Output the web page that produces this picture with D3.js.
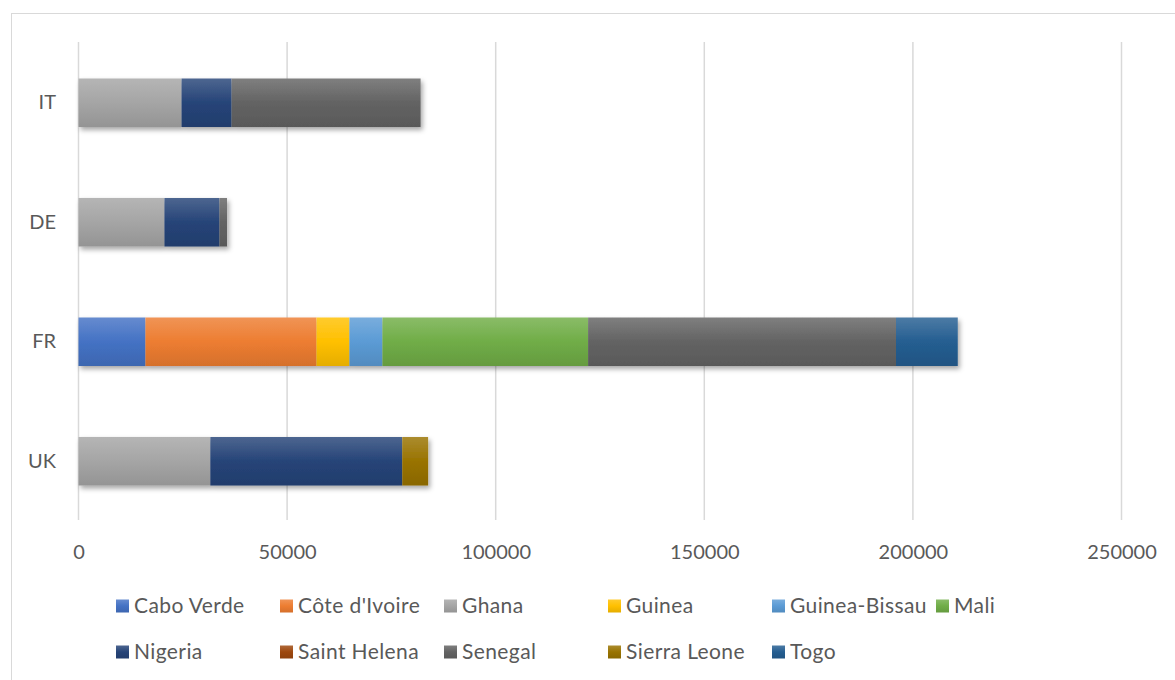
<!DOCTYPE html>
<html>
<head>
<meta charset="utf-8">
<script src="https://cdn.jsdelivr.net/npm/d3@7"></script>
<style>
  html, body { margin: 0; padding: 0; background: #fff; }
  svg { display: block; }
  text { font-family: Lato, "Open Sans", sans-serif; fill: #595959; }
</style>
</head>
<body>
<svg id="chart" width="1175" height="680"></svg>
<script>
// ---- Data ----
const categories = ["IT", "DE", "FR", "UK"];
const seriesNames = ["Cabo Verde", "Côte d'Ivoire", "Ghana", "Guinea", "Guinea-Bissau", "Mali",
                     "Nigeria", "Saint Helena", "Senegal", "Sierra Leone", "Togo"];
// values in order of categories: IT, DE, FR, UK
const caboVerde    = [0, 0, 16050, 0];
const coteIvoire   = [0, 0, 41000, 0];
const ghana        = [24700, 20600, 0, 31600];
const guinea       = [0, 0, 7900, 0];
const guineaBissau = [0, 0, 7900, 0];
const mali         = [0, 0, 49300, 0];
const nigeria      = [12000, 13200, 0, 46000];
const saintHelena  = [0, 0, 0, 0];
const senegal      = [45300, 1800, 73800, 0];
const sierraLeone  = [0, 0, 0, 6200];
const togo         = [0, 0, 14800, 0];
const xTicks = [0, 50000, 100000, 150000, 200000, 250000];
const seriesColors = ["#4472C4", "#ED7D31", "#A5A5A5", "#FFC000", "#5B9BD5", "#70AD47",
                      "#264478", "#9E480E", "#636363", "#997300", "#255E91"];

const seriesValues = [caboVerde, coteIvoire, ghana, guinea, guineaBissau, mali,
                      nigeria, saintHelena, senegal, sierraLeone, togo];

// build table for d3.stack
const table = categories.map((c, i) => {
  const row = { category: c };
  seriesNames.forEach((s, j) => row[s] = seriesValues[j][i]);
  return row;
});

const svg = d3.select("#chart");
const defs = svg.append("defs");

// gradients
seriesNames.forEach((s, j) => {
  const base = seriesColors[j];
  const g = defs.append("linearGradient")
    .attr("id", "grad" + j).attr("x1", 0).attr("y1", 0).attr("x2", 0).attr("y2", 1);
  g.append("stop").attr("offset", "0%").attr("stop-color", d3.interpolateRgb(base, "#ffffff")(0.18));
  g.append("stop").attr("offset", "50%").attr("stop-color", base);
  g.append("stop").attr("offset", "100%").attr("stop-color", d3.color(base).darker(0.3).formatHex());
});

const filt = defs.append("filter").attr("id", "shadow")
  .attr("x", "-10%").attr("y", "-20%").attr("width", "130%").attr("height", "160%");
filt.append("feDropShadow").attr("dx", 2).attr("dy", 3).attr("stdDeviation", 2.5)
  .attr("flood-color", "#000").attr("flood-opacity", 0.35);

// outer chart border
svg.append("rect").attr("x", 11.5).attr("y", 13.5).attr("width", 1175).attr("height", 680)
  .attr("fill", "none").attr("stroke", "#d9d9d9").attr("stroke-width", 1);

const x = d3.scaleLinear().domain([0, 250000]).range([78.5, 1121.5]);
const y = d3.scaleBand().domain(categories).range([43, 521]).paddingInner(0.594).paddingOuter(0.297);

// gridlines
svg.append("g").selectAll("line").data(xTicks).join("line")
  .attr("x1", d => x(d)).attr("x2", d => x(d))
  .attr("y1", 42).attr("y2", 520)
  .attr("stroke", "#d9d9d9").attr("stroke-width", 1.5);

// x-axis labels
const xAxis = d3.axisBottom(x).tickValues(xTicks).tickFormat(d3.format("d")).tickSize(0).tickPadding(0);
const gx = svg.append("g").attr("transform", "translate(0,545)").call(xAxis);
gx.select(".domain").remove();
gx.selectAll("text").attr("font-size", 20).attr("fill", "#595959")
  .style("font-family", "Lato, 'Open Sans', sans-serif").attr("dy", "0.71em");

// y-axis labels
const yAxis = d3.axisLeft(y).tickSize(0).tickPadding(0);
const gy = svg.append("g").attr("transform", "translate(56,0)").call(yAxis);
gy.select(".domain").remove();
gy.selectAll("text").attr("font-size", 20).attr("fill", "#595959")
  .style("font-family", "Lato, 'Open Sans', sans-serif");

// bars
const stack = d3.stack().keys(seriesNames);
const stacked = stack(table);
const layers = svg.append("g").attr("filter", "url(#shadow)");
stacked.forEach((layer, j) => {
  layers.append("g").attr("fill", `url(#grad${j})`)
    .selectAll("rect").data(layer.filter(d => d[1] - d[0] > 0)).join("rect")
    .attr("x", d => x(d[0]))
    .attr("y", d => y(d.data.category))
    .attr("width", d => x(d[1]) - x(d[0]))
    .attr("height", y.bandwidth());
});

// legend
const legendCols = 6, colW = 164, legX0 = 116, rowY = [606, 652];
const leg = svg.append("g");
seriesNames.forEach((s, j) => {
  const col = j % legendCols, row = Math.floor(j / legendCols);
  const gx0 = legX0 + col * colW, gy0 = rowY[row];
  leg.append("rect").attr("x", gx0).attr("y", gy0 - 6.5).attr("width", 13).attr("height", 13)
    .attr("fill", `url(#grad${j})`);
  leg.append("text").attr("x", gx0 + 18).attr("y", gy0).attr("dy", "0.35em")
    .attr("font-size", 21).attr("letter-spacing", 0.4).text(s);
});
</script>
</body>
</html>
